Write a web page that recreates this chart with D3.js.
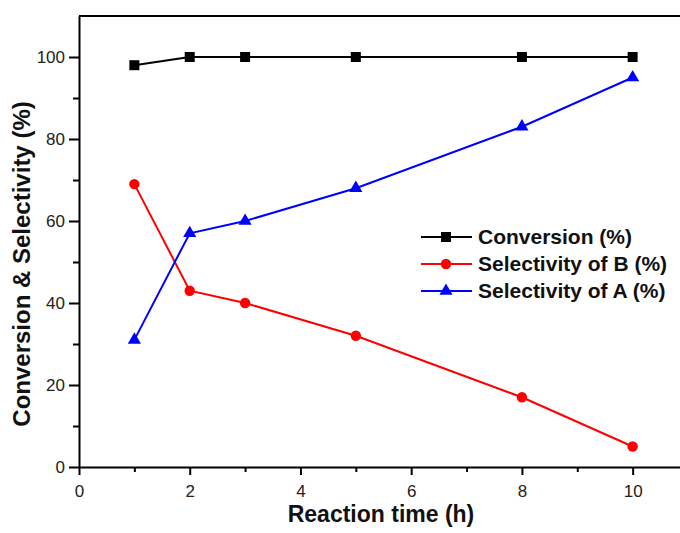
<!DOCTYPE html>
<html>
<head>
<meta charset="utf-8">
<script src="https://cdn.jsdelivr.net/npm/d3@7"></script>
<style>
  body { margin: 0; background: #fff; }
  text { font-family: Arial, "Liberation Sans", sans-serif; }
</style>
</head>
<body>
<div id="chart-area"></div>
<script>
// data
var times = [1, 2, 3, 5, 8, 10];
var conversion = [98, 100, 100, 100, 100, 100];
var selB = [69, 43, 40, 32, 17, 5];
var selA = [31, 57, 60, 68, 83, 95];
var seriesNames = ["Conversion (%)", "Selectivity of B (%)", "Selectivity of A (%)"];
var seriesColors = ["#000000", "#ff0000", "#0000ff"];
var xTicks = [0, 2, 4, 6, 8, 10];
var yTicks = [0, 20, 40, 60, 80, 100];

var margin = { left: 79, right: -8, top: 16, bottom: 66 };
var width = 680 - margin.left - margin.right,
  height = 533 - margin.top - margin.bottom;

var svg = d3.select("#chart-area")
  .append("svg")
  .attr("width", 680)
  .attr("height", 533);

var g = svg.append("g")
  .attr("transform", "translate(" + margin.left + "," + margin.top + ")");

var x = d3.scaleLinear().domain([0, 11]).range([0, width]);
var y = d3.scaleLinear().domain([0, 110]).range([height, 0]);

// minor ticks
g.append("g")
  .attr("transform", "translate(0," + height + ")")
  .call(d3.axisBottom(x).tickValues([1, 3, 5, 7, 9]).tickSize(5).tickFormat(""))
  .call(function (a) { a.select(".domain").remove(); a.selectAll("line").attr("stroke-width", 2); });
g.append("g")
  .call(d3.axisLeft(y).tickValues([10, 30, 50, 70, 90]).tickSize(6).tickFormat(""))
  .call(function (a) { a.select(".domain").remove(); a.selectAll("line").attr("stroke-width", 2); });

// major axes
var xAxis = g.append("g")
  .attr("transform", "translate(0," + height + ")")
  .call(d3.axisBottom(x).tickValues(xTicks).tickSize(8).tickPadding(10).tickSizeOuter(0));
var yAxis = g.append("g")
  .call(d3.axisLeft(y).tickValues(yTicks).tickSize(10).tickPadding(4).tickSizeOuter(0));
[xAxis, yAxis].forEach(function (a) {
  a.select(".domain").attr("stroke-width", 2);
  a.selectAll("line").attr("stroke-width", 2);
  a.selectAll("text").attr("font-size", 17).attr("fill", "#222")
    .style("font-family", "Arial, 'Liberation Sans', sans-serif");
});

// top frame
g.append("line")
  .attr("x1", 0).attr("x2", width)
  .attr("y1", 0).attr("y2", 0)
  .attr("stroke", "#000").attr("stroke-width", 2);

// axis titles
svg.append("text")
  .attr("x", 381).attr("y", 522)
  .attr("text-anchor", "middle")
  .attr("font-size", 23).attr("font-weight", "bold")
  .attr("fill", "#111")
  .text("Reaction time (h)");
svg.append("text")
  .attr("transform", "translate(30,264) rotate(-90)")
  .attr("text-anchor", "middle")
  .attr("font-size", 24).attr("font-weight", "bold")
  .attr("fill", "#111")
  .text("Conversion & Selectivity (%)");

var series = [conversion, selB, selA];
var symbols = [d3.symbolSquare, d3.symbolCircle, d3.symbolTriangle];
var symSizes = [100, 85, 75];

var line = d3.line()
  .x(function (d, i) { return x(times[i]); })
  .y(function (d) { return y(d); });

series.forEach(function (vals, k) {
  g.append("path")
    .datum(vals)
    .attr("fill", "none")
    .attr("stroke", seriesColors[k])
    .attr("stroke-width", 2)
    .attr("d", line);
  g.selectAll(".pt" + k)
    .data(vals)
    .enter()
    .append("path")
    .attr("class", "pt" + k)
    .attr("transform", function (d, i) {
      return "translate(" + x(times[i]) + "," + y(d) + ")";
    })
    .attr("d", d3.symbol().type(symbols[k]).size(symSizes[k]))
    .attr("fill", seriesColors[k]);
});

// legend
var legend = svg.append("g").attr("transform", "translate(421,237)");
seriesNames.forEach(function (name, i) {
  var row = legend.append("g").attr("transform", "translate(0," + (i * 27) + ")");
  row.append("line")
    .attr("x1", 0).attr("x2", 51)
    .attr("stroke", seriesColors[i]).attr("stroke-width", 2);
  row.append("path")
    .attr("transform", "translate(25,0)")
    .attr("d", d3.symbol().type(symbols[i]).size(symSizes[i]))
    .attr("fill", seriesColors[i]);
  row.append("text")
    .attr("x", 57).attr("y", 7)
    .attr("font-size", 21).attr("font-weight", "bold")
    .attr("fill", "#111")
    .text(name);
});
</script>
</body>
</html>
